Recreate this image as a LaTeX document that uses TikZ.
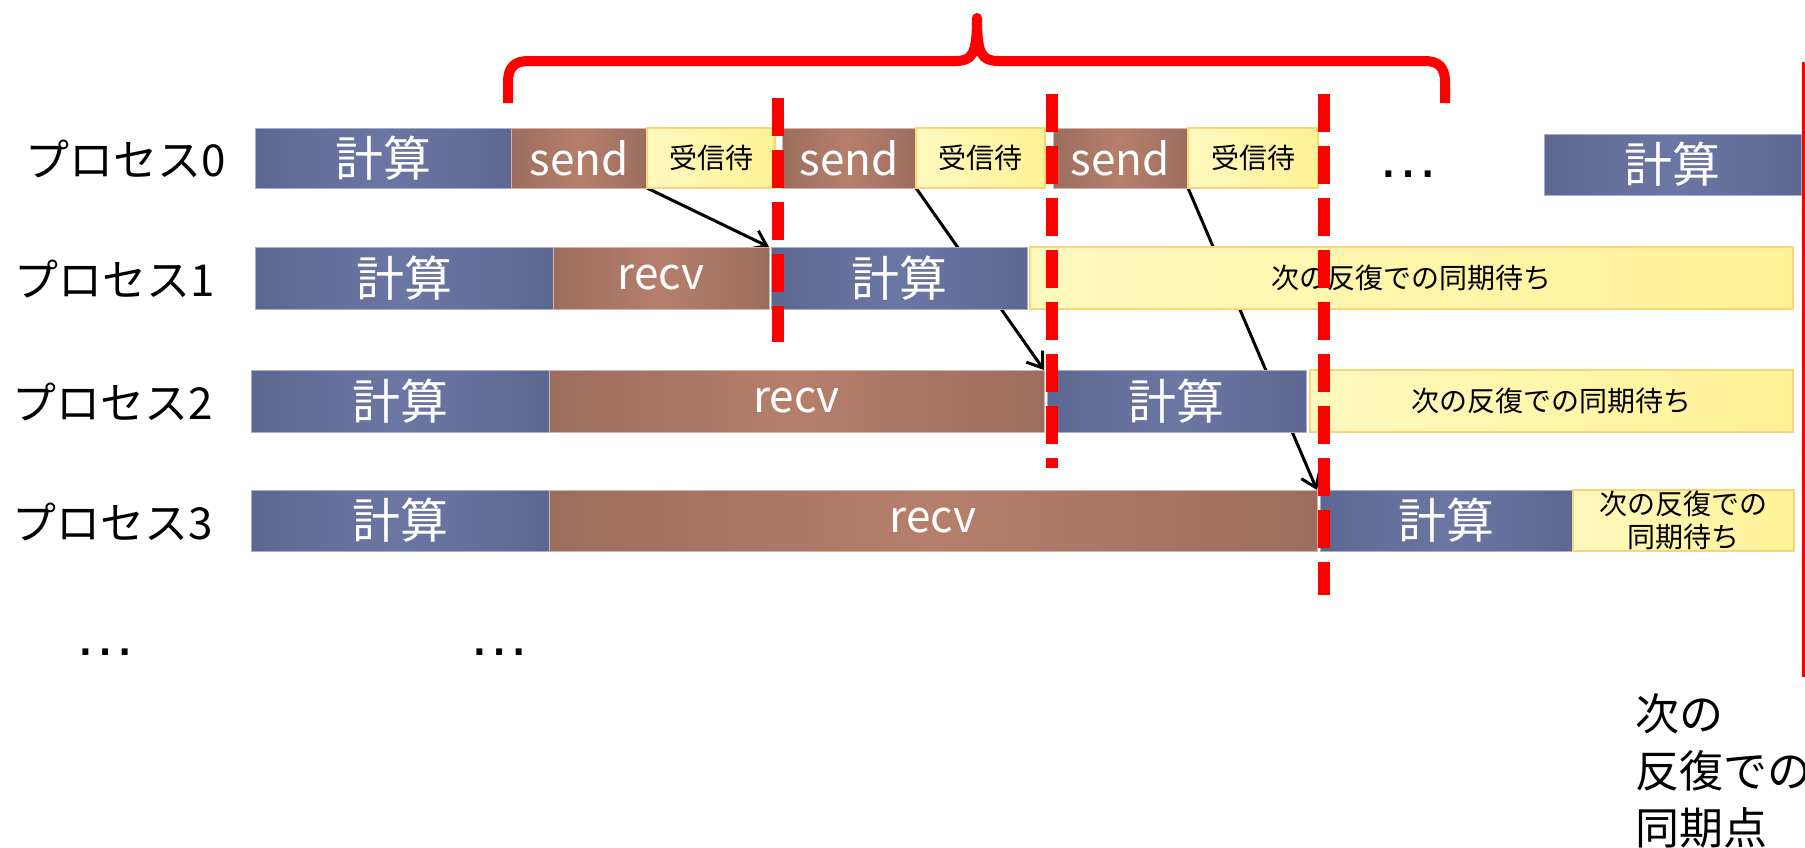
\documentclass[tikz,border=0pt]{standalone}
\usepackage{fontspec}
\newfontfamily\jp{Noto Sans CJK JP}
\newfontfamily\lib{Liberation Sans}
\usetikzlibrary{arrows.meta}
\pgfdeclarelayer{bg}
\pgfsetlayers{bg,main}
\definecolor{bluM}{RGB}{107,119,163}
\definecolor{bluE}{RGB}{93,104,146}
\definecolor{brnM}{RGB}{182,127,108}
\definecolor{brnE}{RGB}{156,109,94}
\definecolor{ylwM}{RGB}{255,242,150}
\definecolor{ylwL}{RGB}{255,248,190}
\definecolor{ylwB}{RGB}{248,214,120}
\definecolor{redL}{RGB}{255,0,0}
\begin{document}
\begin{tikzpicture}[x=1pt,y=-1pt,
  box/.style={anchor=north west, inner sep=0pt, outer sep=0pt, font=\jp\fontsize{44}{50}\selectfont},
  calcbox/.style={box, left color=bluE, right color=bluE, middle color=bluM, draw=bluM!60!white, line width=0.8pt, text=white, font=\jp\fontsize{48}{54}\selectfont},
  commbox/.style={box, left color=brnE, right color=brnE, middle color=brnM, draw=brnM!60!white, line width=0.8pt, text=white},
  waitbox/.style={box, left color=ylwL, right color=ylwM, draw=ylwB, line width=2pt, text=black, font=\jp\fontsize{28}{33}\selectfont},
  lbl/.style={inner sep=0pt, font=\jp\fontsize{44}{50}\selectfont},
  dotstext/.style={inner sep=0pt, anchor=base, font=\lib\fontsize{62}{70}\selectfont},
  msg/.style={-{Straight Barb[length=14pt,width=20pt]}, line width=3pt, black},
  sync/.style={draw=redL, line width=12pt, dash pattern=on 38pt off 14pt},
]
\useasboundingbox (0,0) rectangle (1805,847);

% process labels
\node[lbl] (p0) at (126,159) {プロセス0};
\node[lbl] (p1) at (115,279) {プロセス1};
\node[lbl] (p2) at (113,402) {プロセス2};
\node[lbl] (p3) at (113,522) {プロセス3};

% row 0
\node[calcbox, minimum width=256pt, minimum height=60pt] (c0a) at (255,128) {計算};
\node[commbox, minimum width=136pt, minimum height=60pt] (s0a) at (511,128) {send};
\node[waitbox, minimum width=128pt, minimum height=60pt] (w0a) at (647,128) {受信待};
\node[commbox, minimum width=134pt, minimum height=60pt] (s0b) at (782,128) {send};
\node[waitbox, minimum width=129pt, minimum height=60pt] (w0b) at (916,128) {受信待};
\node[commbox, minimum width=135pt, minimum height=60pt] (s0c) at (1053,128) {send};
\node[waitbox, minimum width=130pt, minimum height=60pt] (w0c) at (1188,128) {受信待};
\node[dotstext] (e0) at (1408,177) {…};
\node[calcbox, minimum width=257pt, minimum height=61pt] (c0b) at (1544,134) {計算};

% row 1
\node[calcbox, minimum width=298pt, minimum height=62pt] (c1a) at (255,247) {計算};
\node[commbox, minimum width=216pt, minimum height=62pt] (r1) at (553,247) {recv};
\node[calcbox, minimum width=256pt, minimum height=62pt] (c1b) at (771,247) {計算};
\node[waitbox, minimum width=763pt, minimum height=62pt] (y1) at (1030,247) {次の反復での同期待ち};

% row 2
\node[calcbox, minimum width=298pt, minimum height=62pt] (c2a) at (251,370) {計算};
\node[commbox, minimum width=495pt, minimum height=62pt] (r2) at (549,370) {recv};
\node[calcbox, minimum width=259pt, minimum height=62pt] (c2b) at (1047,370) {計算};
\node[waitbox, minimum width=483pt, minimum height=62pt] (y2) at (1310,370) {次の反復での同期待ち};

% row 3
\node[calcbox, minimum width=298pt, minimum height=61pt] (c3a) at (251,490) {計算};
\node[commbox, minimum width=768pt, minimum height=61pt] (r3) at (549,490) {recv};
\node[calcbox, minimum width=253pt, minimum height=61pt] (c3b) at (1320,490) {計算};
\node[waitbox, minimum width=221pt, minimum height=61pt, align=center] (y3) at (1573,490) {次の反復での\\同期待ち};

% ellipses below
\node[dotstext] (e1) at (105,655) {…};
\node[dotstext] (e2) at (499,655) {…};

% messages (behind the boxes)
\begin{pgfonlayer}{bg}
\draw[msg] (s0a.south east) -- (r1.north east);
\draw[msg] (s0b.south east) -- (r2.north east);
\draw[msg] (s0c.south east) -- (r3.north east);
\end{pgfonlayer}

% synchronisation lines
\coordinate (d1t) at (778,98);  \coordinate (d1b) at (778,342);
\coordinate (d2t) at (1052,94); \coordinate (d2b) at (1052,468);
\coordinate (d3t) at (1324,94); \coordinate (d3b) at (1324,595);
\draw[sync] (d1t) -- (d1b);
\draw[sync] (d2t) -- (d2b);
\draw[sync] (d3t) -- (d3b);

% next sync point line
\coordinate (nt) at (1803,62); \coordinate (nb) at (1803,677);
\draw[redL, line width=3pt] (nt) -- (nb);

% brace
\draw[redL, line width=10pt, line join=round]
  (508,103) -- (508,82) .. controls (508,68) and (514,61) .. (528,61)
  -- (955,61) .. controls (972,61) and (977,55) .. (977,18)
  .. controls (977,55) and (982,61) .. (999,61)
  -- (1425,61) .. controls (1439,61) and (1445,68) .. (1445,82) -- (1445,103);

% bottom text
\node[anchor=north west, align=left, inner sep=0pt, font=\jp\fontsize{44}{57}\selectfont] (nx) at (1635,693) {次の\\反復での\\同期点};
\end{tikzpicture}
\end{document}
